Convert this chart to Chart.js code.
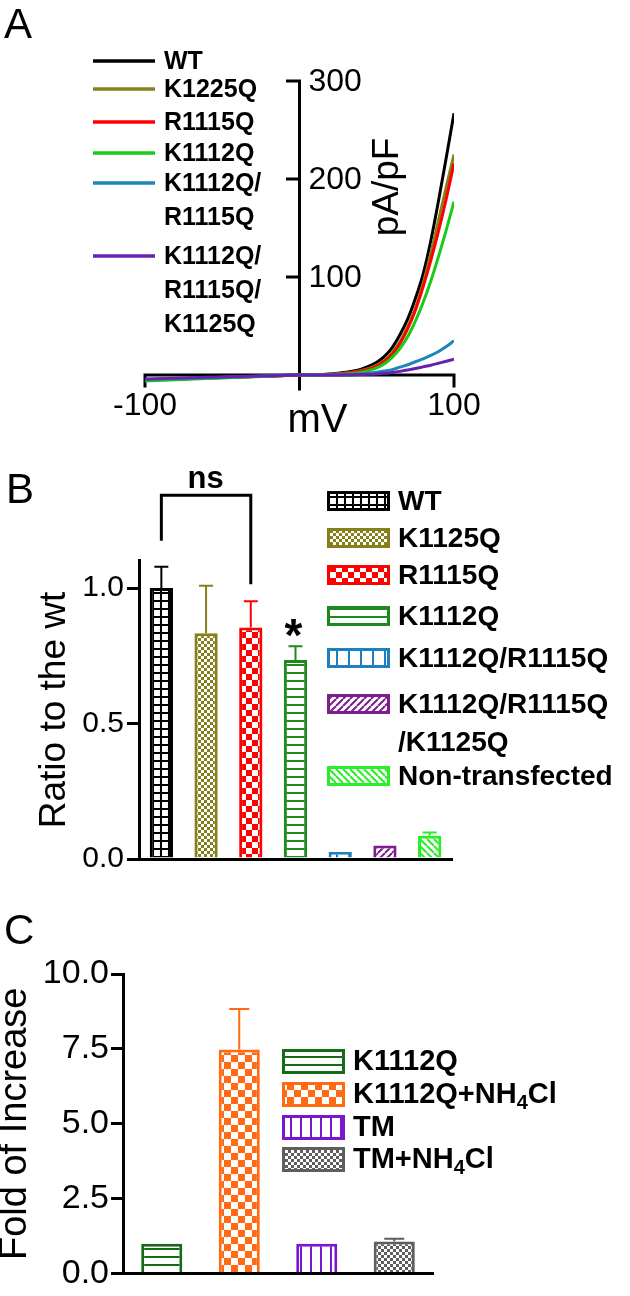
<!DOCTYPE html>
<html>
<head>
<meta charset="utf-8">
<script src="https://cdn.jsdelivr.net/npm/chart.js@4.4.0/dist/chart.umd.min.js"></script>
<style>
  html, body { margin: 0; padding: 0; background: #fff; }
  #page { position: relative; width: 630px; height: 1296px; overflow: hidden; background: #fff; }
  canvas { position: absolute; left: 0; }
</style>
</head>
<body>
<div id="page">
  <canvas id="chartA" width="630" height="440" style="top:0px"></canvas>
  <canvas id="chartB" width="630" height="440" style="top:440px"></canvas>
  <canvas id="chartC" width="630" height="416" style="top:880px"></canvas>
</div>
<script>
// ---- panel A: I-V curves (pA/pF vs mV) ----
const voltages      = [-100, -80, -60, -40, -20, 0, 5, 10, 15, 20, 25, 30, 35, 40, 45, 50, 55, 60, 65, 70, 75, 80, 85, 90, 95, 100];
const currentWT     = [-5, -4, -3, -2, -1, 0, 0.1, 0.3, 0.6, 1.1, 1.8, 2.8, 4, 6, 9, 13, 19, 28, 41, 57, 78, 103, 137, 178, 222, 267];
const currentK1225Q = [-5, -4, -3, -2, -1, 0, 0.1, 0.2, 0.4, 0.8, 1.3, 2.1, 3.1, 4.6, 6.8, 10, 15, 23, 34, 49, 68, 93, 124, 158, 192, 225];
const currentR1115Q = [-5, -4, -3, -2, -1, 0, 0.1, 0.2, 0.4, 0.7, 1.1, 1.8, 2.7, 4, 6, 9, 14, 21, 32, 47, 66, 90, 117, 147, 180, 216];
const currentK1112Q = [-6, -4.8, -3.6, -2.4, -1.2, 0, 0.05, 0.1, 0.2, 0.4, 0.7, 1.1, 1.8, 2.8, 4.5, 7.2, 11.5, 18, 27, 39, 55, 74, 96, 121, 148, 177];
const currentDouble = [-4.5, -3.6, -2.7, -1.8, -0.9, 0, 0, 0.1, 0.1, 0.2, 0.3, 0.5, 0.7, 1, 1.8, 2.8, 4, 5.5, 8, 10.5, 13.5, 16.5, 20, 24, 29, 35];
const currentTriple = [-4, -3.2, -2.4, -1.6, -0.8, 0, 0, 0, 0, 0, 0, 0.1, 0.2, 0.4, 0.7, 1.1, 1.7, 2.6, 3.7, 5, 6.6, 8.3, 10, 12, 14, 16];
const ivNames  = [['WT'], ['K1225Q'], ['R1115Q'], ['K1112Q'], ['K1112Q/', 'R1115Q'], ['K1112Q/', 'R1115Q/', 'K1125Q']];
const ivYTicks = [100, 200, 300];
const ivXTicks = [-100, 100];

// ---- panel B: ratio to the wt ----
const ratioGroups = ['WT', 'K1125Q', 'R1115Q', 'K1112Q', 'K1112Q/R1115Q', 'K1112Q/R1115Q/K1125Q', 'Non-transfected'];
const ratioLegend = [['WT'], ['K1125Q'], ['R1115Q'], ['K1112Q'], ['K1112Q/R1115Q'], ['K1112Q/R1115Q', '/K1125Q'], ['Non-transfected']];
const ratioMeans  = [1.0, 0.833, 0.854, 0.734, 0.026, 0.05, 0.086];
const ratioSem    = [0.078, 0.175, 0.097, 0.051, 0, 0, 0.012];
const ratioTicks  = [0, 0.5, 1.0];

// ---- panel C: fold of increase ----
const foldGroups = ['K1112Q', 'K1112Q+NH4Cl', 'TM', 'TM+NH4Cl'];
const foldMeans  = [1.0, 7.48, 1.0, 1.07];
const foldSem    = [0, 1.35, 0, 0.09];
const foldTicks  = [0, 2.5, 5, 7.5, 10];

const FONT = "'Liberation Sans', Arial, Helvetica, sans-serif";
Chart.defaults.font.family = FONT;
Chart.defaults.color = '#000';

// fill patterns
function tile(w, h, draw) {
  const c = document.createElement('canvas');
  c.width = w; c.height = h;
  const g = c.getContext('2d');
  g.fillStyle = '#fff';
  g.fillRect(0, 0, w, h);
  draw(g);
  return g.createPattern(c, 'repeat');
}
const hatch = {
  grid: col => tile(8, 8, g => { g.fillStyle = col; g.fillRect(0, 0, 8, 2); g.fillRect(0, 0, 2, 8); }),
  check: (col, s) => tile(2 * s, 2 * s, g => { g.fillStyle = col; g.fillRect(0, 0, s, s); g.fillRect(s, s, s, s); }),
  hlines: (col, s) => tile(8, s, g => { g.fillStyle = col; g.fillRect(0, 0, 8, 2); }),
  vlines: (col, s) => tile(s, 8, g => { g.fillStyle = col; g.fillRect(0, 0, 2, 8); }),
  diag: (col, up) => tile(7, 7, g => {
    g.strokeStyle = col; g.lineWidth = 2; g.beginPath();
    for (let k = -1; k <= 1; k++) {
      if (up) { g.moveTo(k * 7, 7); g.lineTo(k * 7 + 7, 0); }
      else { g.moveTo(k * 7, 0); g.lineTo(k * 7 + 7, 7); }
    }
    g.stroke();
  })
};

function textCentered(ctx, str, cx, cy) {
  const m = ctx.measureText(str);
  const w = m.actualBoundingBoxLeft + m.actualBoundingBoxRight;
  const h = m.actualBoundingBoxAscent + m.actualBoundingBoxDescent;
  ctx.textAlign = 'left';
  ctx.textBaseline = 'alphabetic';
  ctx.fillText(str, cx - w / 2 + m.actualBoundingBoxLeft, cy - h / 2 + m.actualBoundingBoxAscent);
}

// text with the digit after NH drawn as subscript
function drawRich(ctx, str, x, y, size) {
  const parts = str.split(/(?<=NH)(\d)/);
  let cx = x;
  ctx.textAlign = 'left';
  ctx.textBaseline = 'middle';
  parts.forEach((p, i) => {
    const sub = i % 2 === 1;
    ctx.font = 'bold ' + (sub ? Math.round(size * 0.68) : size) + 'px ' + FONT;
    ctx.fillText(p, cx, y + (sub ? size * 0.3 : 0));
    cx += ctx.measureText(p).width;
  });
}

function legendBox(ctx, x, y, w, h, fill, col) {
  ctx.fillStyle = fill;
  ctx.fillRect(x, y, w, h);
  ctx.strokeStyle = col;
  ctx.lineWidth = 3;
  ctx.strokeRect(x + 1.5, y + 1.5, w - 3, h - 3);
}

function drawErrorBars(chart, sem, capHalf) {
  const {ctx} = chart;
  const ds = chart.data.datasets[0];
  const y = chart.scales.y;
  ctx.save();
  chart.getDatasetMeta(0).data.forEach((bar, i) => {
    if (!sem[i]) return;
    const top = y.getPixelForValue(ds.data[i]);
    const end = y.getPixelForValue(ds.data[i] + sem[i]);
    ctx.strokeStyle = ds.borderColor[i];
    ctx.lineWidth = 2;
    ctx.beginPath();
    ctx.moveTo(bar.x, top); ctx.lineTo(bar.x, end);
    ctx.moveTo(bar.x - capHalf, end); ctx.lineTo(bar.x + capHalf, end);
    ctx.stroke();
  });
  ctx.restore();
}

function panelLetter(ctx, letter, x, y) {
  ctx.save();
  ctx.fillStyle = '#000';
  ctx.font = '42px ' + FONT;
  ctx.textAlign = 'left';
  ctx.textBaseline = 'alphabetic';
  ctx.fillText(letter, x, y);
  ctx.restore();
}

// ================= Panel A =================
const ivSeries = [currentWT, currentK1225Q, currentR1115Q, currentK1112Q, currentDouble, currentTriple];
const ivColors = ['#000000', '#858017', '#ff0000', '#16cc16', '#1f87b8', '#6a1fb3'];

const ivDecor = {
  id: 'ivDecor',
  beforeDatasetsDraw(chart) {
    const {ctx, scales: {x, y}} = chart;
    const x0 = x.getPixelForValue(0), y0 = y.getPixelForValue(0);
    ctx.save();
    ctx.strokeStyle = '#000';
    ctx.lineWidth = 3;
    ctx.lineCap = 'square';
    ctx.beginPath();
    ctx.moveTo(x.getPixelForValue(ivXTicks[0]), y0);
    ctx.lineTo(x.getPixelForValue(ivXTicks[1]), y0);
    ctx.moveTo(x0, y.getPixelForValue(300));
    ctx.lineTo(x0, y0 + 14);
    ivXTicks.forEach(v => { const px = x.getPixelForValue(v); ctx.moveTo(px, y0); ctx.lineTo(px, y0 + 11); });
    ivYTicks.forEach(v => { const py = y.getPixelForValue(v); ctx.moveTo(x0, py); ctx.lineTo(x0 - 12, py); });
    ctx.stroke();
    ctx.restore();
  },
  afterDraw(chart) {
    const {ctx, scales: {x, y}} = chart;
    const x0 = x.getPixelForValue(0), y0 = y.getPixelForValue(0);
    ctx.save();
    ctx.fillStyle = '#000';
    ctx.font = '32px ' + FONT;
    ctx.textAlign = 'left';
    ctx.textBaseline = 'middle';
    ivYTicks.forEach(v => ctx.fillText(String(v), x0 + 9, y.getPixelForValue(v) + 1));
    ctx.textAlign = 'center';
    ctx.textBaseline = 'alphabetic';
    ivXTicks.forEach(v => ctx.fillText(String(v), x.getPixelForValue(v), y0 + 40));
    ctx.font = '40px ' + FONT;
    ctx.fillText('mV', x0 + 18, y0 + 57);
    ctx.save();
    ctx.translate(388, 187);
    ctx.rotate(-Math.PI / 2);
    ctx.font = '37px ' + FONT;
    ctx.textBaseline = 'middle';
    ctx.fillText('pA/pF', 0, 0);
    ctx.restore();

    // legend
    const rows = [61, 89, 122, 153, 183, 256];
    ctx.font = 'bold 25px ' + FONT;
    ctx.textAlign = 'left';
    ctx.textBaseline = 'middle';
    ivNames.forEach((lines, i) => {
      ctx.strokeStyle = ivColors[i];
      ctx.lineWidth = 3.5;
      ctx.beginPath();
      ctx.moveTo(93, rows[i]); ctx.lineTo(155, rows[i]);
      ctx.stroke();
      lines.forEach((t, k) => ctx.fillText(t, 164, rows[i] + 1 + k * 34));
    });
    ctx.restore();
    panelLetter(ctx, 'A', 4, 38);
  }
};

new Chart(document.getElementById('chartA'), {
  type: 'line',
  data: {
    datasets: ivSeries.map((s, i) => ({
      label: ivNames[i].join(''),
      data: voltages.map((v, k) => ({x: v, y: s[k]})),
      borderColor: ivColors[i],
      borderWidth: 3,
      pointRadius: 0,
      cubicInterpolationMode: 'monotone',
      fill: false,
      order: ivSeries.length - i
    }))
  },
  options: {
    responsive: false,
    animation: false,
    devicePixelRatio: 1,
    layout: {padding: {left: 145, right: 176, top: 81, bottom: 45.4}},
    plugins: {legend: {display: false}, tooltip: {enabled: false}},
    scales: {
      x: {type: 'linear', min: -100, max: 100, display: false},
      y: {type: 'linear', min: -20, max: 300, display: false}
    }
  },
  plugins: [ivDecor]
});

// ================= Panel B =================
const ratioColors = ['#000000', '#85801a', '#ff0000', '#1c8a1c', '#1f80bf', '#7d1e8e', '#28ee28'];
const ratioFills = [
  hatch.grid(ratioColors[0]),
  hatch.check(ratioColors[1], 3),
  hatch.check(ratioColors[2], 6),
  hatch.hlines(ratioColors[3], 8),
  hatch.vlines(ratioColors[4], 12),
  hatch.diag(ratioColors[5], true),
  hatch.diag(ratioColors[6], false)
];

const ratioDecor = {
  id: 'ratioDecor',
  afterDatasetsDraw(chart) { drawErrorBars(chart, ratioSem, 7); },
  afterDraw(chart) {
    const {ctx, scales: {x, y}} = chart;
    ctx.save();
    ctx.fillStyle = '#000';
    // ns bracket between WT and R1115Q
    const xa = x.getPixelForValue(0), xb = x.getPixelForValue(2);
    ctx.strokeStyle = '#000';
    ctx.lineWidth = 3;
    ctx.lineJoin = 'miter';
    ctx.beginPath();
    ctx.moveTo(xa, y.getPixelForValue(1.174));
    ctx.lineTo(xa, y.getPixelForValue(1.342));
    ctx.lineTo(xb, y.getPixelForValue(1.342));
    ctx.lineTo(xb, y.getPixelForValue(1.014));
    ctx.stroke();
    ctx.font = 'bold 31px ' + FONT;
    textCentered(ctx, 'ns', (xa + xb) / 2, y.getPixelForValue(1.40));
    ctx.font = 'bold 46px ' + FONT;
    textCentered(ctx, '*', x.getPixelForValue(3) - 2, y.getPixelForValue(0.854));

    // legend
    const rows = [61, 98, 135, 176, 218, 264, 336];
    ratioLegend.forEach((lines, i) => {
      legendBox(ctx, 327, rows[i] - 10, 63, 20, ratioFills[i], ratioColors[i]);
      ctx.fillStyle = '#000';
      ctx.font = 'bold 28px ' + FONT;
      ctx.textAlign = 'left';
      ctx.textBaseline = 'middle';
      lines.forEach((t, k) => ctx.fillText(t, 398, rows[i] + 1 + k * 38));
    });
    ctx.restore();
    panelLetter(ctx, 'B', 6, 63);
  }
};

new Chart(document.getElementById('chartB'), {
  type: 'bar',
  data: {
    labels: ratioGroups,
    datasets: [{
      data: ratioMeans,
      backgroundColor: ratioFills,
      borderColor: ratioColors,
      borderWidth: 3,
      barPercentage: 0.52,
      categoryPercentage: 1
    }]
  },
  options: {
    responsive: false,
    animation: false,
    devicePixelRatio: 1,
    layout: {padding: {left: 0, right: 178, top: 120.9, bottom: 10}},
    plugins: {legend: {display: false}, tooltip: {enabled: false}},
    scales: {
      x: {
        ticks: {display: false},
        grid: {display: false, drawTicks: false},
        border: {display: true, width: 3, color: '#000'},
        afterFit(s) { s.height = 0; }
      },
      y: {
        min: 0, max: 1.1,
        afterBuildTicks(s) { s.ticks = ratioTicks.map(v => ({value: v})); },
        ticks: {font: {size: 30}, color: '#000', padding: 3, callback: v => v.toFixed(1)},
        grid: {drawOnChartArea: false, drawTicks: true, tickLength: 12, lineWidth: 3, color: '#000'},
        border: {display: true, width: 3, color: '#000'},
        title: {display: true, text: 'Ratio to the wt', color: '#000', font: {size: 37, lineHeight: 1.2}, padding: {top: 33, bottom: 0}},
        afterFit(s) { s.width = 139; }
      }
    }
  },
  plugins: [ratioDecor]
});

// ================= Panel C =================
const foldColors = ['#176a17', '#ff6a13', '#7a16cf', '#5e5e5e'];
const foldFills = [
  hatch.hlines(foldColors[0], 8),
  hatch.check(foldColors[1], 7),
  hatch.vlines(foldColors[2], 10),
  hatch.check(foldColors[3], 3)
];

const foldDecor = {
  id: 'foldDecor',
  afterDatasetsDraw(chart) { drawErrorBars(chart, foldSem, 10); },
  afterDraw(chart) {
    const {ctx} = chart;
    ctx.save();
    const rows = [181, 214, 247, 279];
    foldGroups.forEach((g, i) => {
      legendBox(ctx, 282, rows[i] - 12, 63, 25, foldFills[i], foldColors[i]);
      ctx.fillStyle = '#000';
      drawRich(ctx, g, 353, rows[i] + 1, 29);
    });
    ctx.restore();
    panelLetter(ctx, 'C', 4, 64);
  }
};

new Chart(document.getElementById('chartC'), {
  type: 'bar',
  data: {
    labels: foldGroups,
    datasets: [{
      data: foldMeans,
      backgroundColor: foldFills,
      borderColor: foldColors,
      borderWidth: 3,
      barPercentage: 0.53,
      categoryPercentage: 1
    }]
  },
  options: {
    responsive: false,
    animation: false,
    devicePixelRatio: 1,
    layout: {padding: {left: 0, right: 197, top: 94, bottom: 13}},
    plugins: {legend: {display: false}, tooltip: {enabled: false}},
    scales: {
      x: {
        ticks: {display: false},
        grid: {display: false, drawTicks: false},
        border: {display: true, width: 3, color: '#000'},
        afterFit(s) { s.height = 0; }
      },
      y: {
        min: 0, max: 10,
        afterBuildTicks(s) { s.ticks = foldTicks.map(v => ({value: v})); },
        ticks: {font: {size: 34}, color: '#000', padding: 2, callback: v => v.toFixed(1)},
        grid: {drawOnChartArea: false, drawTicks: true, tickLength: 12, lineWidth: 3, color: '#000'},
        border: {display: true, width: 3, color: '#000'},
        title: {display: true, text: 'Fold of Increase', color: '#000', font: {size: 38, lineHeight: 1.2}, padding: {top: -7, bottom: 0}},
        afterFit(s) { s.width = 123; }
      }
    }
  },
  plugins: [foldDecor]
});
</script>
</body>
</html>
